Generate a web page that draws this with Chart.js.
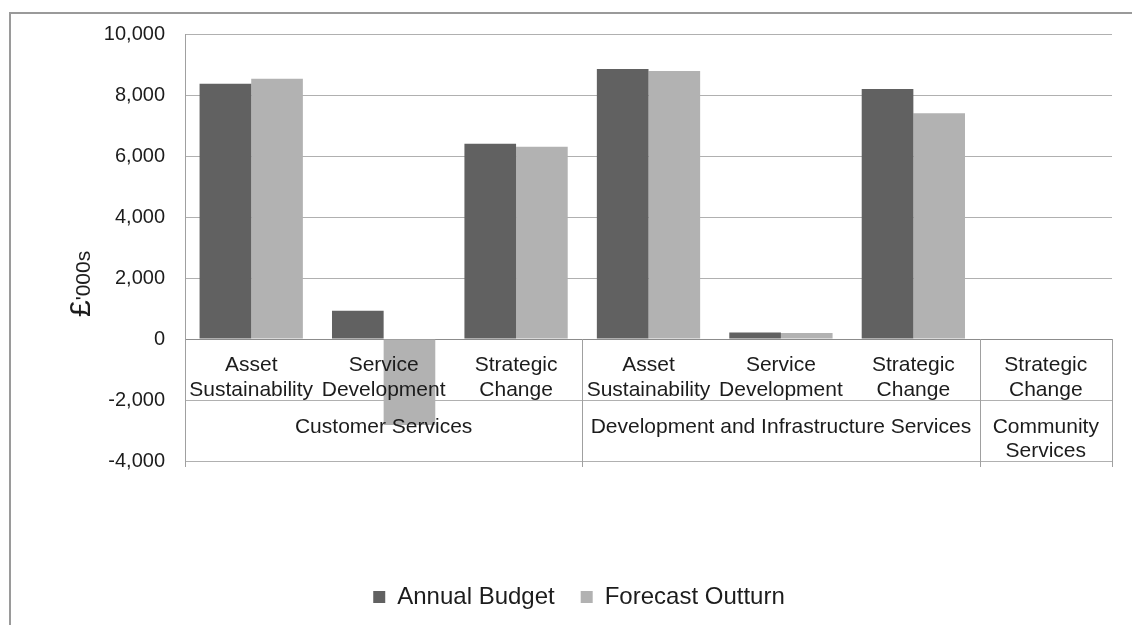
<!DOCTYPE html>
<html>
<head>
<meta charset="utf-8">
<title>Capital programme by service</title>
<script src="https://cdn.jsdelivr.net/npm/chart.js@4.4.1/dist/chart.umd.min.js"></script>
<style>
  html,body{margin:0;padding:0;background:#fff;overflow:hidden;}
  #frame{position:absolute;left:9px;top:12px;width:1300px;height:800px;border-left:2px solid #9a9a9a;border-top:2px solid #9a9a9a;}
  #chart{position:absolute;left:0;top:0;}
</style>
</head>
<body>
<div id="frame"></div>
<canvas id="chart" width="1132" height="625"></canvas>
<script>
// sub-categories (two-line labels) and the service each belongs to
const subLabels = [
  ['Asset','Sustainability'], ['Service','Development'], ['Strategic','Change'],
  ['Asset','Sustainability'], ['Service','Development'], ['Strategic','Change'],
  ['Strategic','Change']
];
const groupNames = [['Customer Services'], ['Development and Infrastructure Services'], ['Community','Services']];
const groupSpans = [3, 3, 1];

// £'000s
const annualBudget    = [8370,  930, 6400, 8850, 210, 8200, 0];
const forecastOutturn = [8530, -2820, 6300, 8790, 200, 7400, 0];

const yTicks = [-4000, -2000, 0, 2000, 4000, 6000, 8000, 10000];

const FONT = '"Liberation Sans", Arial, sans-serif';
const TEXT = '#1c1c1c';

// draws the two-row category table below the zero line, over the bars
const categoryTable = {
  id: 'categoryTable',
  afterDatasetsDraw(chart) {
    const {ctx, scales: {x, y}} = chart;
    const n = subLabels.length;
    const w = (x.right - x.left) / n;
    const y0 = y.getPixelForValue(0);
    const y1 = y.getPixelForValue(-2000);
    const y2 = y.getPixelForValue(-4000);
    ctx.save();
    ctx.fillStyle = TEXT;
    ctx.textAlign = 'center';
    ctx.textBaseline = 'middle';
    ctx.font = '21px ' + FONT;
    subLabels.forEach((lines, i) => {
      const cx = x.getPixelForValue(i);
      lines.forEach((t, j) => ctx.fillText(t, cx, y0 + 26 + j * 25));
    });
    let start = 0;
    const bounds = [x.left];
    groupNames.forEach((lines, g) => {
      const end = start + groupSpans[g];
      const cx = x.left + w * (start + end) / 2;
      lines.forEach((t, j) => ctx.fillText(t, cx, y1 + 27 + j * 24));
      bounds.push(x.left + w * end);
      start = end;
    });
    ctx.strokeStyle = '#a0a0a0';
    ctx.lineWidth = 1;
    bounds.forEach((bx, k) => {
      const px = Math.round(bx) + 0.5;
      ctx.beginPath();
      ctx.moveTo(px, k === 0 ? y.top : y0);
      ctx.lineTo(px, y2 + 6);
      ctx.stroke();
    });
    ctx.restore();
  }
};

// rotated "£'000s" axis title, the pound sign set larger
const unitTitle = {
  id: 'unitTitle',
  afterDraw(chart) {
    const {ctx} = chart;
    ctx.save();
    ctx.translate(90, 317);
    ctx.rotate(-Math.PI / 2);
    ctx.fillStyle = TEXT;
    ctx.textBaseline = 'alphabetic';
    ctx.textAlign = 'left';
    ctx.font = '30px ' + FONT;
    ctx.fillText('£', 0, 0);
    const pw = ctx.measureText('£').width;
    ctx.font = '21px ' + FONT;
    ctx.fillText("'000s", pw, 0);
    ctx.restore();
  }
};

new Chart(document.getElementById('chart').getContext('2d'), {
  type: 'bar',
  data: {
    labels: subLabels,
    datasets: [
      {label: 'Annual Budget', data: annualBudget, backgroundColor: '#616161'},
      {label: 'Forecast Outturn', data: forecastOutturn, backgroundColor: '#b2b2b2'}
    ]
  },
  options: {
    responsive: false,
    animation: false,
    categoryPercentage: 0.78,
    barPercentage: 1.0,
    layout: {padding: {top: 34, right: 20, left: 46, bottom: 6}},
    plugins: {
      tooltip: {enabled: false},
      legend: {
        position: 'bottom',
        labels: {
          font: {family: FONT, size: 24},
          color: TEXT,
          boxWidth: 12,
          boxHeight: 12,
          padding: 26
        }
      }
    },
    scales: {
      x: {
        grid: {display: false},
        border: {display: false},
        ticks: {display: false},
        afterFit(s) { s.height = 98; }
      },
      y: {
        min: -4000,
        max: 10000,
        afterBuildTicks(s) { s.ticks = yTicks.map(v => ({value: v})); },
        afterFit(s) { s.width = 139; },
        grid: {
          drawTicks: false,
          color: c => c.tick && c.tick.value === 0 ? '#8c8c8c' : '#b0b0b0',
          lineWidth: 1
        },
        border: {display: true, color: '#a0a0a0'},
        ticks: {
          padding: 20,
          color: TEXT,
          font: {family: FONT, size: 20},
          callback: v => v.toLocaleString('en-US')
        }
      }
    }
  },
  plugins: [categoryTable, unitTitle]
});
</script>
</body>
</html>
